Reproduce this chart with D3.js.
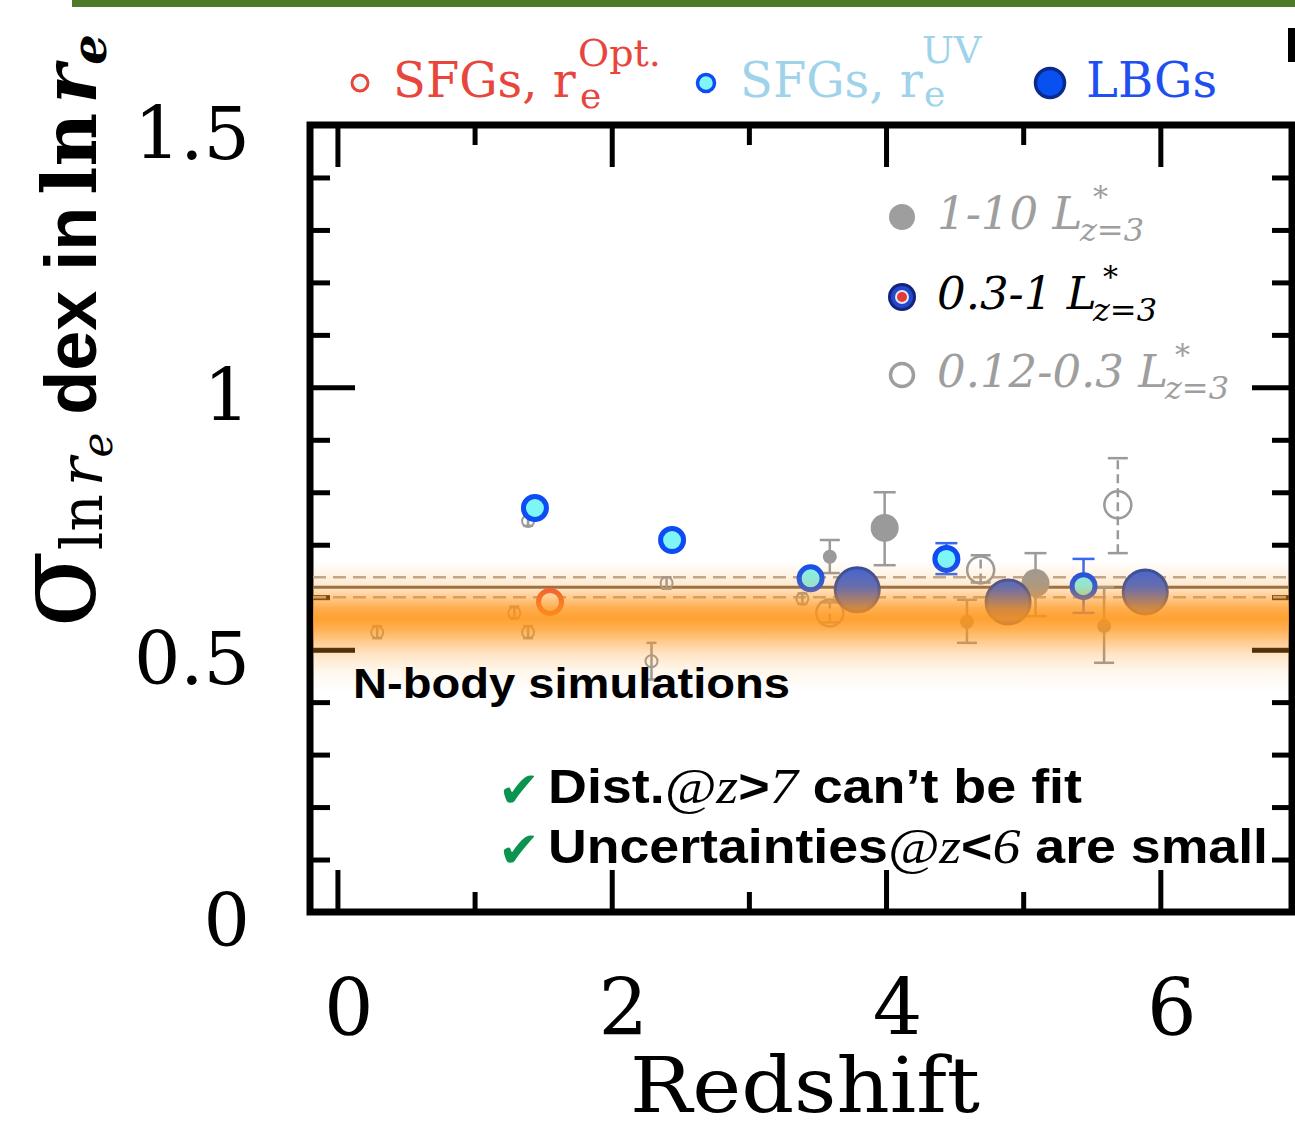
<!DOCTYPE html>
<html>
<head>
<meta charset="utf-8">
<script src="https://cdn.jsdelivr.net/npm/d3@7"></script>
<style>
  body { margin: 0; background: #fff; }
</style>
</head>
<body>
<div id="chart-area"></div>
<script>
// tick values
const xMajor = [0, 2, 4, 6];
const xMinor = [1, 3, 5];
const yMajor = [0, 0.5, 1, 1.5];
const yMinor = [0.1, 0.2, 0.3, 0.4, 0.6, 0.7, 0.8, 0.9, 1.1, 1.2, 1.3, 1.4];

// sigma values (z = redshift, s = sigma, lo/hi = error bar)
const sfgOpt = [{ z: 1.55, s: 0.591 }];
const sfgUV = [
    { z: 1.44, s: 0.770 },
    { z: 2.44, s: 0.709 },
    { z: 3.45, s: 0.636 },
    { z: 4.44, s: 0.673, lo: 0.644, hi: 0.703 },
    { z: 5.44, s: 0.621, lo: 0.570, hi: 0.673 }
];
const lbgMid = [
    { z: 3.79, s: 0.614 },
    { z: 4.89, s: 0.591 },
    { z: 5.89, s: 0.610 }
];
const lbgBright = [
    { z: 3.99, s: 0.732, lo: 0.661, hi: 0.800 },
    { z: 5.09, s: 0.627, lo: 0.564, hi: 0.684 }
];
const lbgFaint = [
    { z: 3.59, s: 0.570, lo: 0.552, hi: 0.590 },
    { z: 4.69, s: 0.652, lo: 0.628, hi: 0.680 },
    { z: 5.69, s: 0.776, lo: 0.684, hi: 0.865 }
];
const sfgBright = [
    { z: 3.59, s: 0.677, lo: 0.646, hi: 0.709 },
    { z: 4.59, s: 0.553, lo: 0.513, hi: 0.595 },
    { z: 5.59, s: 0.545, lo: 0.475, hi: 0.619 }
];
const sfgFaint = [
    { z: 0.29, s: 0.533, lo: 0.522, hi: 0.545 },
    { z: 1.29, s: 0.570, lo: 0.560, hi: 0.582 },
    { z: 1.39, s: 0.533, lo: 0.522, hi: 0.545 },
    { z: 1.39, s: 0.745, lo: 0.736, hi: 0.755 },
    { z: 2.29, s: 0.478, lo: 0.443, hi: 0.513 },
    { z: 2.40, s: 0.627, lo: 0.616, hi: 0.638 },
    { z: 3.39, s: 0.597, lo: 0.587, hi: 0.607 }
];

// n-body simulation: mean, 1-sigma lines and the density profile of the band [sigma, opacity]
const nbodyMean = 0.619;
const nbodyLo = 0.600;
const nbodyHi = 0.638;
const nbodyProfile = [
    [0.670, 0.0], [0.645, 0.10], [0.620, 0.22], [0.600, 0.48], [0.580, 0.75],
    [0.560, 0.88], [0.540, 0.75], [0.515, 0.48], [0.490, 0.24], [0.460, 0.08], [0.420, 0.0]
];

class SigmaChart {
    constructor(parentelement) {
        this.parentelement = parentelement;
        this.initVis();
    }

    initVis() {
        const vis = this;

        vis.width = 1295;
        vis.height = 1128;
        vis.left = 310; vis.right = 1292; vis.top = 125; vis.bottom = 912;

        vis.svg = d3.select(vis.parentelement)
            .append("svg")
            .attr("width", vis.width)
            .attr("height", vis.height)
            .style("display", "block");

        vis.x = d3.scaleLinear().domain([-0.2, 6.96]).range([vis.left, vis.right]);
        vis.y = d3.scaleLinear().domain([0, 1.5]).range([vis.bottom, vis.top]);

        // green strip at the very top + the cut-off glyph at the right edge
        vis.svg.append("rect")
            .attr("x", 72).attr("y", 0).attr("width", 1223).attr("height", 7)
            .attr("fill", "#4e7a2a");
        vis.svg.append("rect")
            .attr("x", 1288).attr("y", 28).attr("width", 7).attr("height", 34)
            .attr("fill", "#000");

        vis.drawAxes();
        vis.drawNbodyLines();
        vis.drawPoints();
        vis.drawBand();
        vis.drawLegends();
        vis.drawTexts();
    }

    drawAxes() {
        const vis = this;
        const serif = "DejaVu Serif";

        const styleTicks = g => {
            g.select(".domain").remove();
            g.selectAll(".tick line").attr("stroke", "#000").attr("stroke-width", 5);
        };

        // bottom
        vis.svg.append("g")
            .attr("transform", `translate(0, ${vis.bottom})`)
            .call(d3.axisBottom(vis.x).tickValues(xMajor).tickSize(-42).tickPadding(68))
            .call(styleTicks)
            .call(g => g.selectAll("text")
                .attr("dx", 11)
                .attr("font-family", serif).attr("font-size", 78).attr("fill", "#000"));
        vis.svg.append("g")
            .attr("transform", `translate(0, ${vis.bottom})`)
            .call(d3.axisBottom(vis.x).tickValues(xMinor).tickSize(-20).tickFormat(""))
            .call(styleTicks);

        // top
        vis.svg.append("g")
            .attr("transform", `translate(0, ${vis.top})`)
            .call(d3.axisTop(vis.x).tickValues(xMajor).tickSize(-42).tickFormat(""))
            .call(styleTicks);
        vis.svg.append("g")
            .attr("transform", `translate(0, ${vis.top})`)
            .call(d3.axisTop(vis.x).tickValues(xMinor).tickSize(-20).tickFormat(""))
            .call(styleTicks);

        // left
        vis.svg.append("g")
            .attr("transform", `translate(${vis.left}, 0)`)
            .call(d3.axisLeft(vis.y).tickValues(yMajor).tickSize(-45).tickPadding(60)
                .tickFormat(d => d === 0 || d === 1 ? d : d3.format(".1f")(d)))
            .call(styleTicks)
            .call(g => g.selectAll("text")
                .attr("dy", "0.46em")
                .attr("font-family", serif).attr("font-size", 73).attr("fill", "#000"));
        vis.svg.append("g")
            .attr("transform", `translate(${vis.left}, 0)`)
            .call(d3.axisLeft(vis.y).tickValues(yMinor).tickSize(-20).tickFormat(""))
            .call(styleTicks);

        // right
        vis.svg.append("g")
            .attr("transform", `translate(${vis.right}, 0)`)
            .call(d3.axisRight(vis.y).tickValues(yMajor).tickSize(-40).tickFormat(""))
            .call(styleTicks);
        vis.svg.append("g")
            .attr("transform", `translate(${vis.right}, 0)`)
            .call(d3.axisRight(vis.y).tickValues(yMinor).tickSize(-20).tickFormat(""))
            .call(styleTicks);

        // frame
        vis.svg.append("rect")
            .attr("x", vis.left).attr("y", vis.top)
            .attr("width", vis.right - vis.left).attr("height", vis.bottom - vis.top)
            .attr("fill", "none").attr("stroke", "#000").attr("stroke-width", 7);

        // x title
        vis.svg.append("text")
            .attr("x", 630).attr("y", 1112)
            .attr("font-family", serif).attr("font-size", 76)
            .attr("textLength", 350).attr("lengthAdjust", "spacingAndGlyphs")
            .text("Redshift");

        // y title (rotated)
        const yt = vis.svg.append("text")
            .attr("transform", "translate(94, 628) rotate(-90)")
            .attr("font-family", serif);
        yt.append("tspan").attr("font-size", 114).text("σ");
        yt.append("tspan").attr("font-size", 58).attr("dy", 8).text("ln");
        yt.append("tspan").attr("font-size", 60).attr("font-style", "italic").attr("dx", 8).text("r");
        yt.append("tspan").attr("font-size", 42).attr("font-style", "italic").attr("dy", 10).text("e");
        yt.append("tspan").attr("font-size", 72).attr("font-family", "Liberation Sans")
            .attr("font-weight", "bold").attr("dy", -16).attr("dx", 18).text("dex in");
        yt.append("tspan").attr("font-size", 74).attr("font-weight", "bold").attr("dx", 12).text("ln");
        yt.append("tspan").attr("font-size", 74).attr("font-weight", "bold").attr("font-style", "italic")
            .attr("dx", 9).text("r");
        yt.append("tspan").attr("font-size", 48).attr("font-weight", "bold").attr("font-style", "italic")
            .attr("dy", 10).text("e");
    }

    drawNbodyLines() {
        const vis = this;
        const x0 = vis.left + 3, x1 = vis.right - 3;

        vis.svg.selectAll(".nb-dash")
            .data([nbodyLo, nbodyHi])
            .join("line")
            .attr("class", "nb-dash")
            .attr("x1", x0).attr("x2", x1)
            .attr("y1", d => vis.y(d)).attr("y2", d => vis.y(d))
            .attr("stroke", "#b8a99a").attr("stroke-width", 2.5)
            .attr("stroke-dasharray", "13,7");

        vis.svg.append("line")
            .attr("x1", x0).attr("x2", x1)
            .attr("y1", vis.y(nbodyMean)).attr("y2", vis.y(nbodyMean))
            .attr("stroke", "#7e6650").attr("stroke-width", 3);
    }

    errorBars(data, color, cap, dashed) {
        const vis = this;
        const g = vis.svg.append("g");
        const withErr = data.filter(d => d.lo !== undefined);
        g.selectAll(".eb")
            .data(withErr)
            .join("line")
            .attr("x1", d => vis.x(d.z)).attr("x2", d => vis.x(d.z))
            .attr("y1", d => vis.y(d.lo)).attr("y2", d => vis.y(d.hi))
            .attr("stroke", color).attr("stroke-width", 2.5)
            .attr("stroke-dasharray", dashed ? "9,5" : null);
        g.selectAll(".cap")
            .data(withErr.flatMap(d => [{ z: d.z, v: d.lo }, { z: d.z, v: d.hi }]))
            .join("line")
            .attr("x1", d => vis.x(d.z) - cap).attr("x2", d => vis.x(d.z) + cap)
            .attr("y1", d => vis.y(d.v)).attr("y2", d => vis.y(d.v))
            .attr("stroke", color).attr("stroke-width", 2.5);
    }

    circles(data, r, fill, stroke, sw) {
        const vis = this;
        vis.svg.append("g")
            .selectAll("circle")
            .data(data)
            .join("circle")
            .attr("cx", d => vis.x(d.z))
            .attr("cy", d => vis.y(d.s))
            .attr("r", r)
            .attr("fill", fill)
            .attr("stroke", stroke)
            .attr("stroke-width", sw);
    }

    drawPoints() {
        const vis = this;
        const gray = "#9a9a9a";

        // gray luminosity bins
        vis.errorBars(sfgFaint, gray, 5, false);
        vis.circles(sfgFaint, 6, "none", gray, 2);
        vis.errorBars(sfgBright, gray, 10, false);
        vis.circles(sfgBright, 7, gray, "none", 0);
        vis.errorBars(lbgFaint, gray, 10, true);
        vis.circles(lbgFaint, 13.5, "none", gray, 2.5);
        vis.errorBars(lbgBright, gray, 11, false);
        vis.circles(lbgBright, 14, gray, "none", 0);

        // coloured samples
        vis.circles(sfgOpt, 11.5, "#ffffff", "#f0503a", 5);
        vis.errorBars(sfgUV, "#3868f0", 11, false);
        vis.circles(sfgUV, 11.5, "#7ef6f6", "#0d4cf5", 5);
        vis.circles(lbgMid, 22, "#3d62d6", "#2c4aa4", 3);
    }

    drawBand() {
        const vis = this;
        const top = nbodyProfile[0][0];
        const bot = nbodyProfile[nbodyProfile.length - 1][0];

        const grad = vis.svg.append("defs").append("linearGradient")
            .attr("id", "nbody-band")
            .attr("gradientUnits", "userSpaceOnUse")
            .attr("x1", 0).attr("x2", 0)
            .attr("y1", vis.y(top)).attr("y2", vis.y(bot));

        grad.selectAll("stop")
            .data(nbodyProfile)
            .join("stop")
            .attr("offset", d => (vis.y(d[0]) - vis.y(top)) / (vis.y(bot) - vis.y(top)))
            .attr("stop-color", "#ff9416")
            .attr("stop-opacity", d => d[1]);

        vis.svg.append("rect")
            .attr("x", vis.left + 3).attr("width", vis.right - vis.left - 6)
            .attr("y", vis.y(top)).attr("height", vis.y(bot) - vis.y(top))
            .attr("fill", "url(#nbody-band)");
    }

    drawLegends() {
        const vis = this;
        const serif = "DejaVu Serif";

        // top legend
        const top = vis.svg.append("g").attr("font-family", serif);
        top.append("circle").attr("cx", 360).attr("cy", 83).attr("r", 8)
            .attr("fill", "#eefafa").attr("stroke", "#e8453c").attr("stroke-width", 3);
        top.append("text").attr("x", 393).attr("y", 97).attr("font-size", 48)
            .attr("fill", "#e8453c").text("SFGs, r");
        top.append("text").attr("x", 578).attr("y", 66).attr("font-size", 38)
            .attr("fill", "#e8453c").text("Opt.");
        top.append("text").attr("x", 580).attr("y", 108).attr("font-size", 36)
            .attr("fill", "#e8453c").text("e");

        top.append("circle").attr("cx", 706).attr("cy", 83).attr("r", 8.5)
            .attr("fill", "#7ef6f6").attr("stroke", "#0d4cf5").attr("stroke-width", 3.5);
        top.append("text").attr("x", 740).attr("y", 97).attr("font-size", 48)
            .attr("fill", "#9fd3ea").text("SFGs, r");
        top.append("text").attr("x", 922).attr("y", 63).attr("font-size", 38)
            .attr("fill", "#9fd3ea").text("UV");
        top.append("text").attr("x", 924).attr("y", 106).attr("font-size", 36)
            .attr("fill", "#9fd3ea").text("e");

        top.append("circle").attr("cx", 1050).attr("cy", 83).attr("r", 14.5)
            .attr("fill", "#0850f0").attr("stroke", "#0b2a8c").attr("stroke-width", 3.5);
        top.append("text").attr("x", 1086).attr("y", 97).attr("font-size", 48)
            .attr("fill", "#1f4ff0").text("LBGs");

        // luminosity legend inside the frame
        const lum = vis.svg.append("g").attr("font-family", serif).attr("font-style", "italic");
        const gray = "#9e9e9e";
        const rows = [
            { y: 217, main: "1-10 L", color: gray, sup: 1093, sub: 1080 },
            { y: 297, main: "0.3-1 L", color: "#000", sup: 1103, sub: 1093 },
            { y: 375, main: "0.12-0.3 L", color: gray, sup: 1175, sub: 1165 }
        ];
        rows.forEach(r => {
            lum.append("text").attr("x", 937).attr("y", r.y + 12).attr("font-size", 45)
                .attr("fill", r.color).text(r.main);
            lum.append("text").attr("x", r.sup).attr("y", r.y - 10).attr("font-size", 30)
                .attr("font-style", "normal").attr("fill", r.color).text("*");
            lum.append("text").attr("x", r.sub).attr("y", r.y + 24).attr("font-size", 32)
                .attr("fill", r.color).text("z=3");
        });
        lum.append("circle").attr("cx", 902).attr("cy", 217).attr("r", 13).attr("fill", gray);
        [[14, "#14237e"], [11, "#2348c8"], [7, "#dfe8ff"], [5, "#e63a32"]].forEach(c => {
            lum.append("circle").attr("cx", 902).attr("cy", 297).attr("r", c[0]).attr("fill", c[1]);
        });
        lum.append("circle").attr("cx", 902).attr("cy", 375).attr("r", 11.5)
            .attr("fill", "none").attr("stroke", gray).attr("stroke-width", 3.5);
    }

    drawTexts() {
        const vis = this;
        const sans = "Liberation Sans";

        vis.svg.append("text")
            .attr("x", 353).attr("y", 698)
            .attr("font-family", sans).attr("font-weight", "bold").attr("font-size", 43)
            .attr("textLength", 437).attr("lengthAdjust", "spacingAndGlyphs")
            .text("N-body simulations");

        const lines = [
            { y: 803, parts: [["Dist.", "s"], ["@", "i"], ["z", "i"], [">", "s"], ["7", "i"], [" can\u2019t be fit", "s"]], len: 534 },
            { y: 863, parts: [["Uncertainties", "s"], ["@", "i"], ["z", "i"], ["<", "s"], ["6", "i"], [" are small", "s"]], len: 720 }
        ];
        lines.forEach(l => {
            vis.svg.append("text")
                .attr("x", 498).attr("y", l.y + 4)
                .attr("font-family", "DejaVu Sans").attr("font-size", 50)
                .attr("fill", "#0a9450").text("\u2714");
            const t = vis.svg.append("text")
                .attr("x", 548).attr("y", l.y)
                .attr("font-size", 48)
                .attr("textLength", l.len).attr("lengthAdjust", "spacingAndGlyphs");
            l.parts.forEach(p => {
                t.append("tspan")
                    .attr("font-family", p[1] === "s" ? sans : "Liberation Serif")
                    .attr("font-weight", p[1] === "s" ? "bold" : "normal")
                    .attr("font-style", p[1] === "i" ? "italic" : "normal")
                    .attr("font-size", p[1] === "i" ? 50 : 48)
                    .text(p[0]);
            });
        });
    }
}

new SigmaChart("#chart-area");
</script>
</body>
</html>
